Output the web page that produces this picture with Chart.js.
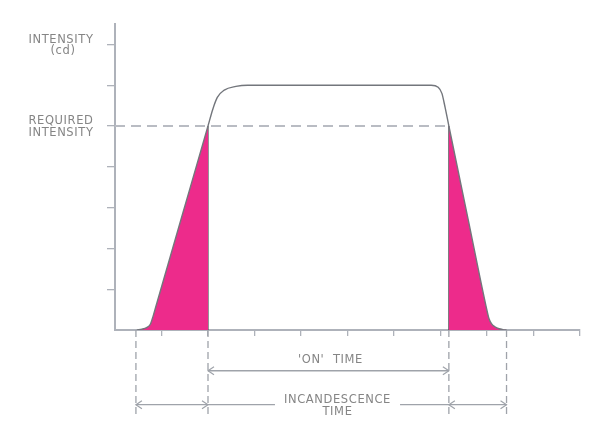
<!DOCTYPE html>
<html>
<head>
<meta charset="utf-8">
<script src="https://cdn.jsdelivr.net/npm/chart.js@4.4.1/dist/chart.umd.min.js"></script>
<style>
  body { margin: 0; background: #fff; }
  #wrap { width: 605px; height: 441px; }
</style>
</head>
<body>
<div id="wrap"><canvas id="chart" width="605" height="441"></canvas></div>
<script>
// light output curve (time in tick units, intensity in tick units)
const curveX = [0.47, 0.58, 0.68, 0.76, 0.82, 0.873, 1.45, 2.0, 2.1, 2.2, 2.35, 2.6, 2.85,
                6.8, 6.95, 7.03, 7.1, 7.18, 7.6, 7.98, 8.04, 8.1, 8.17, 8.26, 8.34, 8.42];
const curveY = [0, 0.02, 0.06, 0.14, 0.34, 0.55, 2.83, 5.0, 5.4, 5.7, 5.88, 5.97, 6.0,
                6.0, 5.95, 5.8, 5.45, 5.0, 2.68, 0.58, 0.29, 0.15, 0.08, 0.03, 0.01, 0];

const requiredLevel = 5;
const startX = 0.45;     // lamp switched on
const crossUpX = 2.0;    // reaches required intensity
const crossDownX = 7.18; // drops below required intensity
const endX = 8.42;       // lamp dark

const xTicks = [1, 2, 3, 4, 5, 6, 7, 8, 9, 10];
const yTicks = [1, 2, 3, 4, 5, 6, 7];

// dimension lines below the axis
const onTimeLevel = -1.0;
const incandLevel = -1.83;
const dashBottom = -2.1;
const labelGapX = [3.44, 6.13];

const pink = '#ED2B8B';
const axisGray = '#aeb2ba';
const dimGray = '#9fa3aa';
const textGray = '#858585';

const curveData = curveX.map((x, i) => ({ x: x, y: curveY[i] }));

// segments that are shaded (rise time and decay time)
function shaded(ctx) {
    const x0 = ctx.p0.parsed.x;
    if (x0 < crossUpX - 1e-6 || x0 >= crossDownX - 1e-6) return pink;
    return 'rgba(0,0,0,0)';
}

const dashLines = [startX, crossUpX, crossDownX, endX].map(x => ({
    type: 'line',
    data: [{ x: x, y: 0 }, { x: x, y: dashBottom }],
    borderColor: dimGray,
    borderWidth: 1.3,
    borderDash: [7, 4],
    pointRadius: 0,
    clip: false
}));

const edgeLines = [crossUpX, crossDownX].map(x => ({
    type: 'line',
    data: [{ x: x, y: 0 }, { x: x, y: requiredLevel }],
    borderColor: '#4d4f53',
    borderWidth: 1.2,
    pointRadius: 0
}));

const datasets = [
    {
        label: 'intensity',
        data: curveData,
        borderColor: '#73767c',
        borderWidth: 1.4,
        pointRadius: 0,
        cubicInterpolationMode: 'monotone',
        fill: 'origin',
        backgroundColor: 'rgba(0,0,0,0)',
        segment: { backgroundColor: shaded }
    },
    ...edgeLines,
    {
        label: 'required',
        data: [{ x: 0, y: requiredLevel }, { x: crossDownX, y: requiredLevel }],
        borderColor: '#b9bcc3',
        borderWidth: 2,
        borderDash: [10, 6],
        pointRadius: 0
    },
    ...dashLines,
    {
        label: 'on time',
        data: [{ x: crossUpX, y: onTimeLevel }, { x: crossDownX, y: onTimeLevel }],
        borderColor: dimGray,
        borderWidth: 1.4,
        pointRadius: 0,
        clip: false
    },
    {
        label: 'incandescence',
        data: [
            { x: startX, y: incandLevel }, { x: labelGapX[0], y: incandLevel },
            { x: labelGapX[0], y: null },
            { x: labelGapX[1], y: incandLevel }, { x: endX, y: incandLevel }
        ],
        borderColor: dimGray,
        borderWidth: 1.4,
        pointRadius: 0,
        spanGaps: false,
        clip: false
    }
];

// arrowheads: [x, level, direction]
const arrows = [
    [crossUpX, onTimeLevel, -1], [crossDownX, onTimeLevel, 1],
    [startX, incandLevel, -1], [crossUpX, incandLevel, 1],
    [crossDownX, incandLevel, -1], [endX, incandLevel, 1]
];

const annotate = {
    id: 'annotate',
    afterDraw(chart) {
        const c = chart.ctx;
        const xs = chart.scales.x, ys = chart.scales.y;
        c.save();
        // arrows
        c.strokeStyle = dimGray;
        c.lineWidth = 1.2;
        arrows.forEach(a => {
            const px = xs.getPixelForValue(a[0]);
            const py = ys.getPixelForValue(a[1]);
            c.beginPath();
            c.moveTo(px - a[2] * 6, py - 4);
            c.lineTo(px, py);
            c.lineTo(px - a[2] * 6, py + 4);
            c.stroke();
        });
        // texts
        c.fillStyle = textGray;
        c.font = '11.5px "DejaVu Sans"';
        c.letterSpacing = '0.6px';
        c.textAlign = 'center';
        c.textBaseline = 'middle';
        const yTop = ys.getPixelForValue(7);
        const yReq = ys.getPixelForValue(requiredLevel);
        c.fillText('INTENSITY', 61, yTop - 4);
        c.fillText('(cd)', 63, yTop + 7);
        c.fillText('REQUIRED', 61, yReq - 5);
        c.fillText('INTENSITY', 61, yReq + 7);
        const onY = ys.getPixelForValue(onTimeLevel);
        const onMid = (xs.getPixelForValue(crossUpX) + xs.getPixelForValue(crossDownX)) / 2;
        c.fillText("'ON'  TIME", onMid + 2, onY - 11);
        const inY = ys.getPixelForValue(incandLevel);
        const inMid = (xs.getPixelForValue(labelGapX[0]) + xs.getPixelForValue(labelGapX[1])) / 2;
        c.fillText('INCANDESCENCE', inMid, inY - 5);
        c.fillText('TIME', inMid, inY + 7);
        c.restore();
    }
};

new Chart(document.getElementById('chart'), {
    type: 'line',
    data: { datasets: datasets },
    plugins: [annotate],
    options: {
        responsive: false,
        animation: false,
        layout: { padding: { left: 107, right: 25, top: 24, bottom: 105 } },
        plugins: { legend: { display: false }, tooltip: { enabled: false } },
        scales: {
            x: {
                type: 'linear',
                min: 0,
                max: 10,
                afterBuildTicks: s => { s.ticks = xTicks.map(v => ({ value: v })); },
                ticks: { display: false },
                grid: { drawOnChartArea: false, drawTicks: true, tickLength: 6, color: axisGray, lineWidth: 1.3 },
                border: { color: axisGray, width: 2 }
            },
            y: {
                type: 'linear',
                min: 0,
                max: 7.5,
                afterBuildTicks: s => { s.ticks = yTicks.map(v => ({ value: v })); },
                ticks: { display: false },
                grid: { drawOnChartArea: false, drawTicks: true, tickLength: 8, color: axisGray, lineWidth: 1.3 },
                border: { color: axisGray, width: 2 }
            }
        }
    }
});
</script>
</body>
</html>
